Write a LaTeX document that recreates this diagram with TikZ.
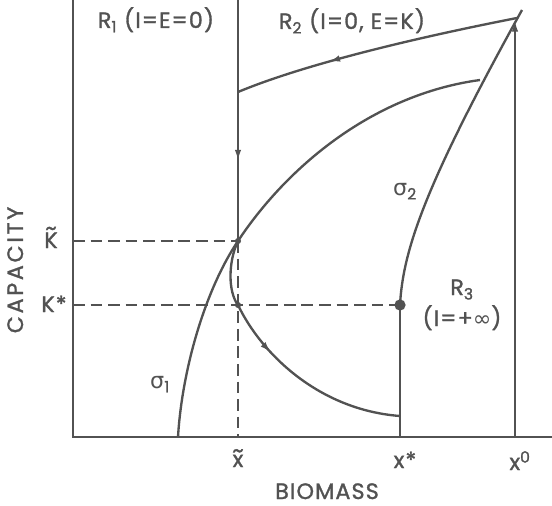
\documentclass[tikz,border=0pt]{standalone}
\usepackage{fontspec}
\setsansfont[FakeBold=1.3, LetterSpace=5]{Poppins}
\newfontfamily\grkfont{DejaVu Sans}
\usepackage{tikz}
\usetikzlibrary{arrows.meta,decorations.markings}
\definecolor{inkgray}{RGB}{82,82,82}
\newsavebox{\tildebox}
\newcommand{\tildeof}[1]{\sbox{\tildebox}{#1}%
  \rlap{\makebox[\wd\tildebox]{\raisebox{\dimexpr\ht\tildebox-0.14em\relax}{\textasciitilde}}}%
  \usebox{\tildebox}}

\begin{document}
\begin{tikzpicture}[
  x=0.03cm, y=-0.03cm,
  font=\sffamily\fontsize{19}{22}\selectfont, text=inkgray,
  curve/.style={draw=inkgray, line width=2pt},
  guide/.style={draw=inkgray, line width=1.7pt, dash pattern=on 10pt off 5pt},
  midarrow/.style={postaction={decorate}, decoration={markings,
      mark=at position #1 with {\arrow{Latex[length=10pt,width=5.5pt]}}}},
  lbl/.style={inner sep=0pt, anchor=base}
]
\useasboundingbox (0,0) rectangle (552,506);

% axes and key points
\coordinate (ytop)  at (73,0);
\coordinate (orig)  at (73,437);
\coordinate (xend)  at (552,437);
\coordinate (xttop) at (238,0);
\coordinate (Kt)    at (238,241);
\coordinate (Ks)    at (238,305);
\coordinate (xt)    at (238,437);
\coordinate (yKt)   at (73,241);
\coordinate (yKs)   at (73,305);
\coordinate (sstar) at (400,305);
\coordinate (xs)    at (400,437);
\coordinate (xo)    at (515,437);
\coordinate (xotop) at (515,20);
\coordinate (corner) at (517,18);
\coordinate (rtwo)  at (238,92);
\coordinate (meet)  at (480,80);

\draw[curve] (ytop) -- (orig) -- (xend);

% dashed guides
\draw[guide] (yKt) -- (Kt);
\draw[guide] (yKs) -- (sstar);
\draw[guide] (Kt) -- (xt);

% vertical lines
\draw[curve, midarrow=0.67] (xttop) -- (Kt);
\draw[curve] (sstar) -- (xs);
\draw[curve, -{Latex[length=10pt,width=5.5pt]}] (xo) -- (xotop);

% R2 trajectory
\draw[curve, midarrow=0.67] (corner) .. controls (430,35) and (310,62) .. (rtwo);

% sigma 1
\draw[curve] (178,437) .. controls (182,370) and (205,290) .. (Kt)
  .. controls (285,170) and (370,95) .. (meet);

% sigma 2
\draw[curve] (sstar) .. controls (403,250) and (425,185) .. (522,10);

% path from K tilde to x star
\draw[curve, midarrow=0.46] (Kt) .. controls (228,262) and (228,292) .. (Ks)
  .. controls (262,355) and (320,410) .. (400,416);

\fill[inkgray] (Kt) circle (2.6pt) (Ks) circle (2.6pt);
\fill[inkgray] (sstar) circle (4.8pt);

% labels
\node[lbl] (lRone)   at (156,28) {R\textsubscript{1} (I=E=0)};
\node[lbl] (lRtwo)   at (352,29) {R\textsubscript{2} (I=0, E=K)};
\node[lbl] (lRthree) at (462,295) {R\textsubscript{3}};
\node[lbl] (lIinf)   at (462,326) {(I=+{\grkfont ∞})};
\node[lbl] (lsone)   at (160,388) {{\grkfont σ}\textsubscript{1}};
\node[lbl] (lstwo)   at (405,195) {{\grkfont σ}\textsubscript{2}};
\node[lbl] (lKt) at (51,248) {\tildeof{K}};
\node[lbl] (lKs) at (54,312) {K*};
\node[lbl] (lxt) at (238,467) {\tildeof{x}};
\node[lbl] (lxs) at (405,468) {x*};
\node[lbl] (lxo) at (520,470) {x\textsuperscript{0}};
\node[lbl] (lbio) at (327,499) {BIOMASS};
\node[lbl, rotate=90] (lcap) at (23,270) {\addfontfeatures{LetterSpace=12}CAPACITY};

\end{tikzpicture}
\end{document}
